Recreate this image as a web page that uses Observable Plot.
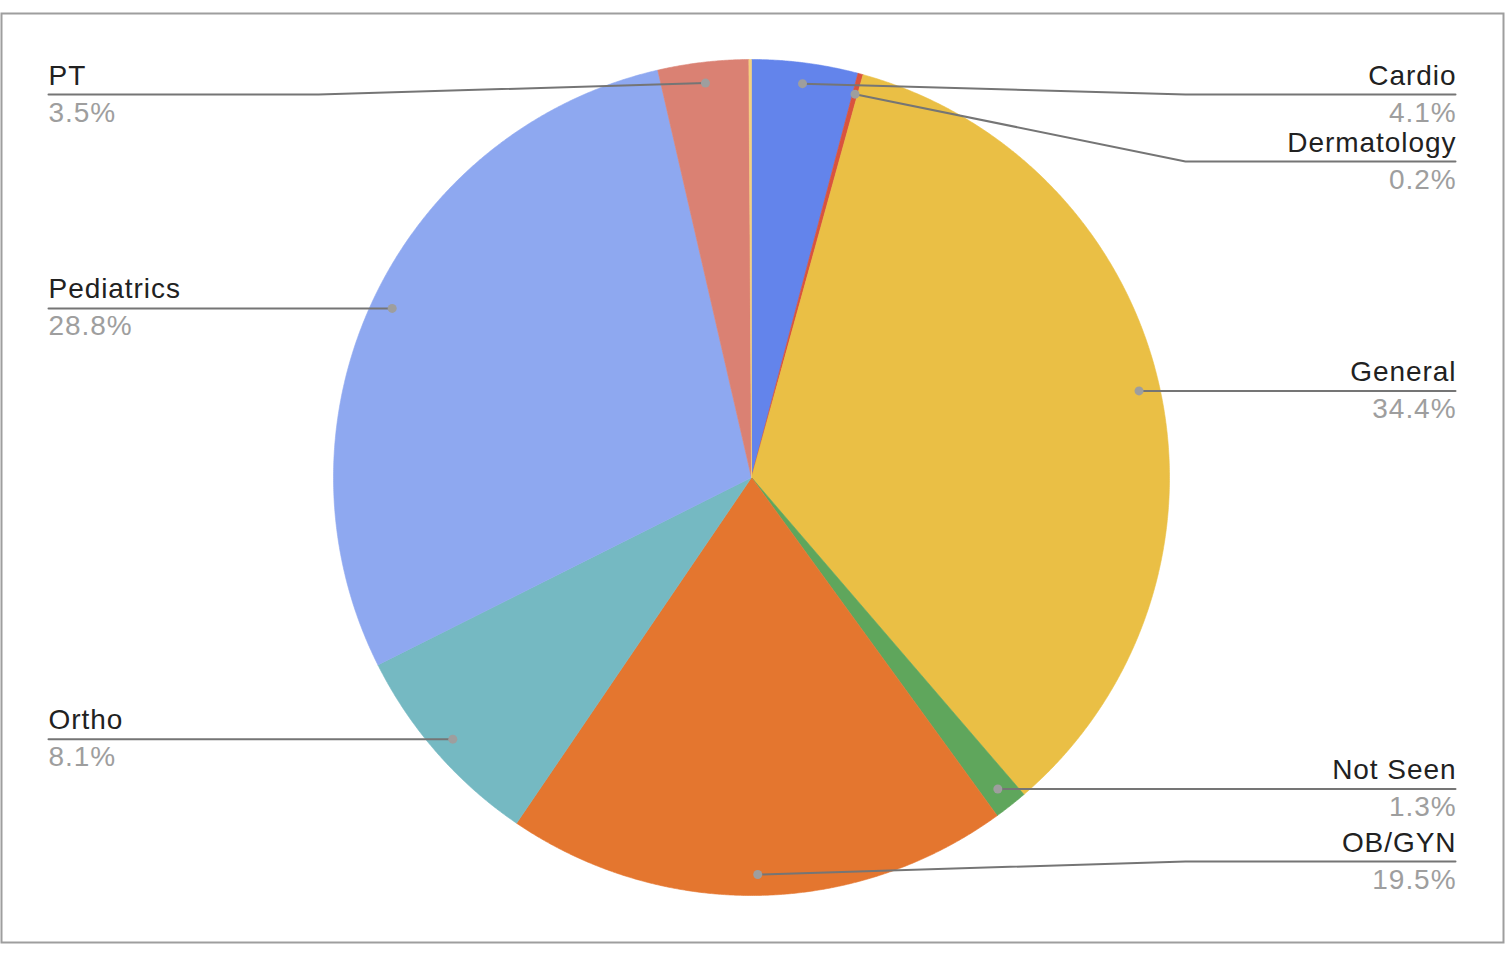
<!DOCTYPE html>
<html>
<head>
<meta charset="utf-8">
<script src="https://cdn.jsdelivr.net/npm/d3@7"></script>
<script src="https://cdn.jsdelivr.net/npm/@observablehq/plot@0.6"></script>
<style>
  html, body { margin: 0; padding: 0; background: #fff; }
  #chart svg { display: block; }
  #chart svg text { letter-spacing: 0.95px; }
</style>
</head>
<body>
<div id="chart"></div>
<script>
// ---- Data ----
const names  = ["Cardio", "Dermatology", "General", "Not Seen", "OB/GYN", "Ortho", "Pediatrics", "PT", ""];
const values = [4.1, 0.2, 34.4, 1.3, 19.5, 8.1, 28.8, 3.5, 0.1];
const colors = ["#6384eb", "#d9533e", "#eabf45", "#5fa65c", "#e4762f", "#75b9c2", "#8ea8f0", "#da8173", "#f4d07e"];

// ---- Layout ----
const W = 1510, H = 955;
const margin = {left: 1, top: 13, right: 7, bottom: 13};
const cx = 751, cy = 477, R = 418;
const dotFrac = 0.95;
const textRight = 1455, textLeft = 48, elbowOffset = 270;
const labelMin = 94, labelMax = 861, labelGap = 67;

const total = d3.sum(values);
const rows = names.map((name, i) => ({name, value: values[i], color: colors[i]}));
const arcs = d3.pie().sort(null).value(d => d.value).startAngle(0).endAngle(2 * Math.PI)(rows);

// slice polygons
const slicePts = [];
arcs.forEach(a => {
  const n = Math.max(2, Math.ceil((a.endAngle - a.startAngle) / (Math.PI / 720)));
  slicePts.push({name: a.data.name, x: cx, y: cy});
  for (let k = 0; k <= n; k++) {
    const t = a.startAngle + (a.endAngle - a.startAngle) * k / n;
    slicePts.push({name: a.data.name, x: cx + R * Math.sin(t), y: cy - R * Math.cos(t)});
  }
  slicePts.push({name: a.data.name, x: cx, y: cy});
});

// labels
const labels = arcs.filter(a => a.data.name !== "").map(a => {
  const m = (a.startAngle + a.endAngle) / 2;
  const dx = cx + R * dotFrac * Math.sin(m), dy = cy - R * dotFrac * Math.cos(m);
  return {
    name: a.data.name,
    pct: d3.format(".1f")(a.data.value / total * 100) + "%",
    dx, dy,
    side: dx >= cx ? "right" : "left"
  };
});
for (const side of ["left", "right"]) {
  const group = labels.filter(l => l.side === side).sort((a, b) => a.dy - b.dy);
  group.forEach(l => l.ly = Math.min(labelMax, Math.max(labelMin, l.dy)));
  for (let i = 1; i < group.length; i++) group[i].ly = Math.max(group[i].ly, group[i - 1].ly + labelGap);
  for (let i = group.length - 2; i >= 0; i--) group[i].ly = Math.min(group[i].ly, group[i + 1].ly - labelGap);
  group.forEach(l => {
    l.tx = side === "right" ? textRight : textLeft;
    l.ex = side === "right" ? textRight - elbowOffset : textLeft + elbowOffset;
    l.anchor = side === "right" ? "end" : "start";
  });
}
const leaderPts = labels.flatMap(l => [
  {name: l.name, x: l.dx, y: l.dy},
  {name: l.name, x: l.ex, y: l.ly},
  {name: l.name, x: l.tx, y: l.ly}
]);

const font = "'Liberation Sans', Arial, sans-serif";
const rightL = labels.filter(l => l.side === "right");
const leftL = labels.filter(l => l.side === "left");

const chart = Plot.plot({
  width: W,
  height: H,
  marginLeft: margin.left,
  marginTop: margin.top,
  marginRight: margin.right,
  marginBottom: margin.bottom,
  x: {domain: [margin.left, W - margin.right], axis: null},
  y: {domain: [H - margin.bottom, margin.top], axis: null},
  color: {domain: names, range: colors},
  style: {fontFamily: font, background: "#fff"},
  marks: [
    Plot.frame({stroke: "#9e9e9e", strokeWidth: 2}),
    Plot.line(slicePts, {x: "x", y: "y", z: "name", fill: "name", stroke: "name", strokeWidth: 0.6, curve: "linear"}),
    Plot.line(leaderPts, {x: "x", y: "y", z: "name", stroke: "#757575", strokeWidth: 2}),
    Plot.dot(labels, {x: "dx", y: "dy", r: 4.5, fill: "#9e9e9e"}),
    Plot.text(rightL, {x: "tx", y: "ly", text: "name", textAnchor: "end", lineAnchor: "bottom", dy: -10, dx: 1, fontSize: 28, fill: "#212121"}),
    Plot.text(leftL, {x: "tx", y: "ly", text: "name", textAnchor: "start", lineAnchor: "bottom", dy: -10, fontSize: 28, fill: "#212121"}),
    Plot.text(rightL, {x: "tx", y: "ly", text: "pct", textAnchor: "end", lineAnchor: "bottom", dy: 27, dx: 1, fontSize: 28, fill: "#9e9e9e"}),
    Plot.text(leftL, {x: "tx", y: "ly", text: "pct", textAnchor: "start", lineAnchor: "bottom", dy: 27, fontSize: 28, fill: "#9e9e9e"})
  ]
});
document.getElementById("chart").appendChild(chart);
</script>
</body>
</html>
